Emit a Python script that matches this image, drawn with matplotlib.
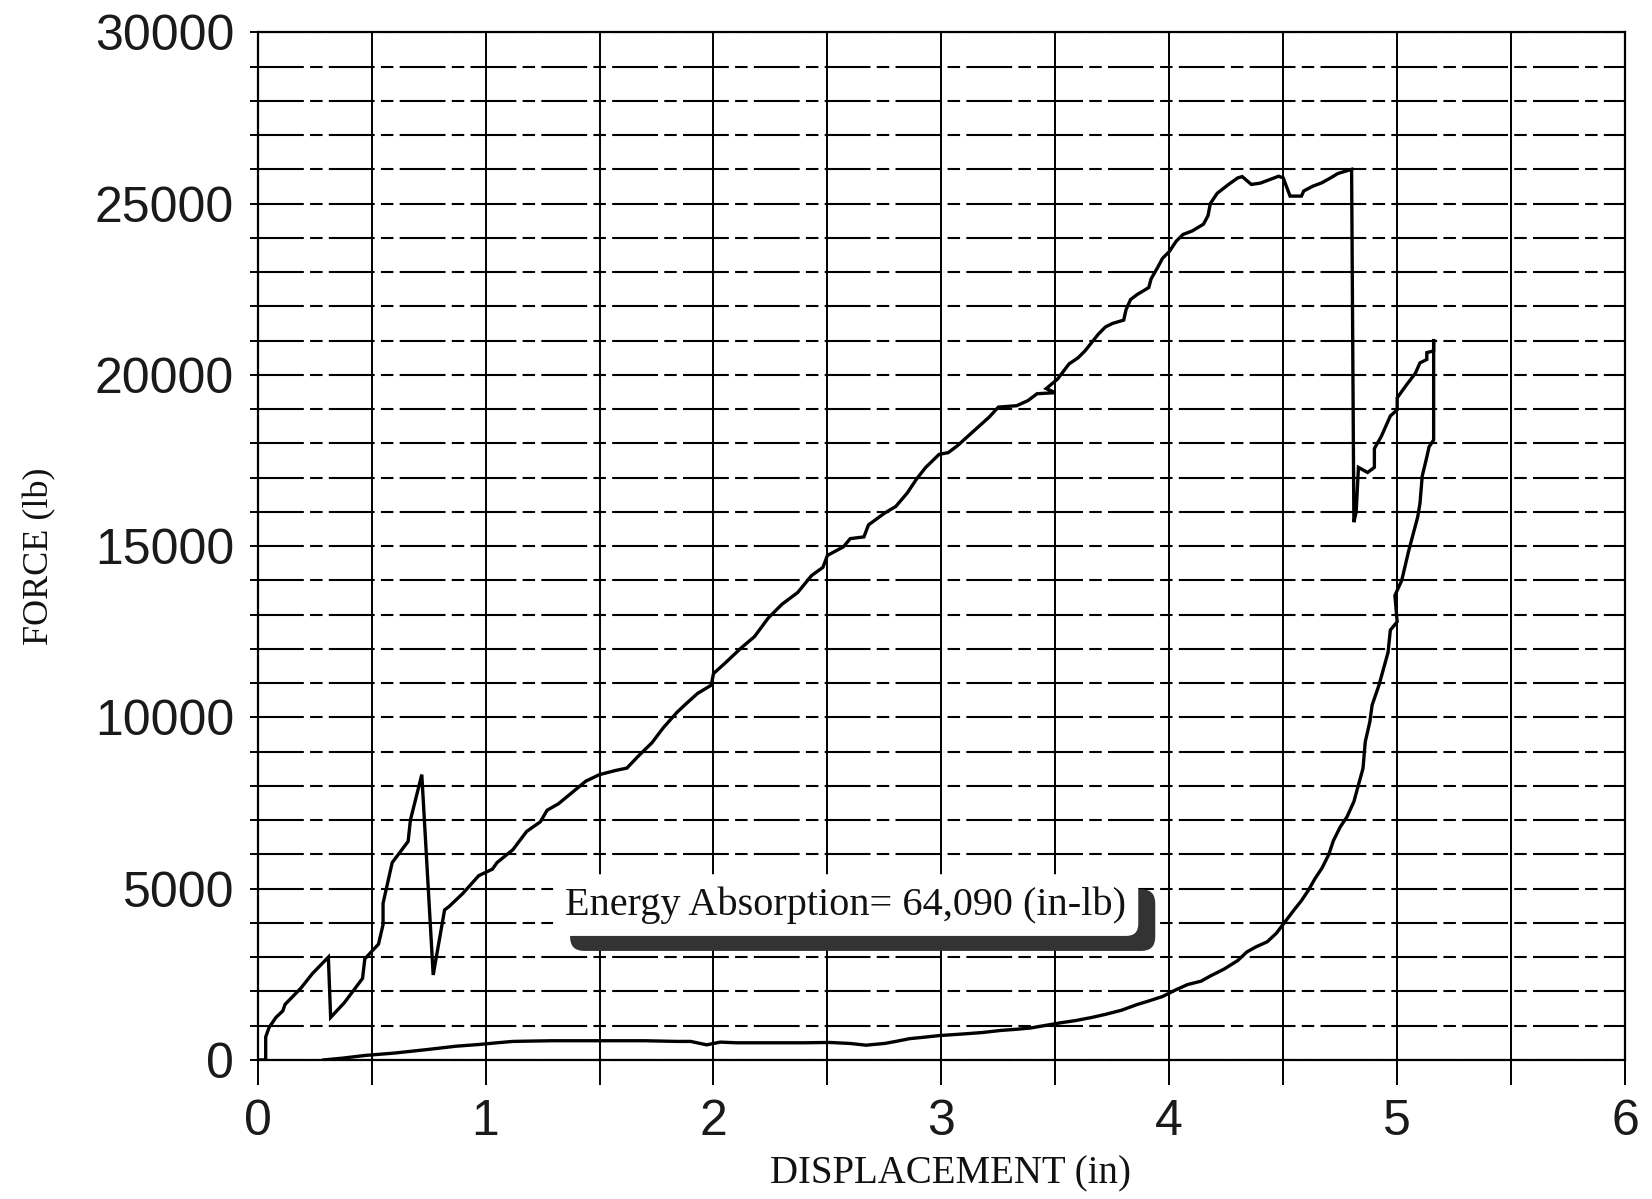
import matplotlib
matplotlib.use("Agg")
import matplotlib.pyplot as plt
from matplotlib.ticker import MultipleLocator
from matplotlib.patches import FancyBboxPatch
from matplotlib.transforms import IdentityTransform

# ---------------- data ----------------
load_x = [0.01, 0.035, 0.035, 0.05, 0.08, 0.11, 0.12, 0.19, 0.24, 0.31, 0.32, 0.38, 0.46, 0.47,
          0.53, 0.55, 0.55, 0.59, 0.66, 0.67, 0.72, 0.77, 0.82, 0.84, 0.90, 0.97, 1.03, 1.05,
          1.12, 1.18, 1.24, 1.27, 1.32, 1.44, 1.50, 1.57, 1.62, 1.67, 1.73, 1.78, 1.84, 1.88,
          1.93, 1.99, 2.00, 2.05, 2.12, 2.18, 2.24, 2.30, 2.37, 2.43, 2.48, 2.50, 2.57, 2.60,
          2.66, 2.68, 2.75, 2.80, 2.85, 2.89, 2.93, 2.99, 3.03, 3.07, 3.12, 3.16, 3.21, 3.25,
          3.33, 3.38, 3.42, 3.50, 3.46, 3.51, 3.56, 3.60, 3.63, 3.66, 3.69, 3.72, 3.75, 3.80,
          3.81, 3.83, 3.86, 3.91, 3.92, 3.95, 3.97, 4.00, 4.03, 4.06, 4.10, 4.15, 4.17, 4.18,
          4.21, 4.26, 4.30, 4.32, 4.36, 4.40, 4.44, 4.48, 4.50, 4.53, 4.58, 4.59, 4.63, 4.67,
          4.71, 4.74, 4.79, 4.80, 4.81, 4.82, 4.83, 4.87, 4.90, 4.90, 4.93, 4.95, 4.97, 5.00,
          5.00, 5.04, 5.08, 5.10, 5.13, 5.13, 5.16, 5.16]
load_y = [0, 0, 670, 950, 1240, 1430, 1620, 2100, 2520, 3000, 1240, 1670, 2380, 2950,
          3380, 3950, 4570, 5760, 6380, 7000, 8330, 2480, 4380, 4480, 4860, 5380, 5570, 5760,
          6140, 6670, 6950, 7290, 7480, 8140, 8330, 8450, 8520, 8870, 9260, 9700, 10150, 10400,
          10700, 10940, 11280, 11580, 12020, 12360, 12900, 13300, 13650, 14140, 14380, 14730, 14980, 15220,
          15270, 15620, 15960, 16160, 16550, 16950, 17290, 17680, 17730, 17930, 18230, 18470, 18770, 19060,
          19100, 19250, 19450, 19480, 19600, 19880, 20320, 20500, 20700, 20950, 21200, 21400, 21500, 21600,
          21900, 22200, 22350, 22550, 22800, 23150, 23400, 23600, 23900, 24100, 24200, 24400, 24650, 25000,
          25300, 25560, 25750, 25790, 25560, 25600, 25700, 25800, 25750, 25220, 25220, 25370, 25510, 25610,
          25760, 25880, 25980, 26000, 15700, 16000, 17300, 17150, 17300, 17850, 18200, 18500, 18800, 18980,
          19330, 19700, 20050, 20350, 20450, 20650, 20700, 21000]

unload_x = [5.16, 5.16, 5.14, 5.13, 5.11, 5.10, 5.09, 5.07, 5.05, 5.02, 4.99, 5.00, 4.97, 4.96,
            4.92, 4.89, 4.88, 4.86, 4.85, 4.83, 4.81, 4.78, 4.75, 4.72, 4.70, 4.67, 4.64, 4.61,
            4.58, 4.55, 4.51, 4.47, 4.43, 4.38, 4.34, 4.30, 4.24, 4.18, 4.14, 4.08, 4.03, 3.97,
            3.90, 3.86, 3.79, 3.72, 3.66, 3.59, 3.52, 3.45, 3.39, 3.32, 3.26, 3.18, 3.10, 2.99,
            2.92, 2.86, 2.80, 2.75, 2.70, 2.67, 2.60, 2.51, 2.40, 2.27, 2.10, 2.03, 1.97, 1.90,
            1.84, 1.70, 1.54, 1.40, 1.29, 1.20, 1.12, 1.05, 0.97, 0.87, 0.74, 0.60, 0.47, 0.37, 0.29]
unload_y = [21000, 18100, 17900, 17600, 17050, 16250, 15850, 15350, 14850, 14000, 13560, 12790, 12550, 11900,
            10940, 10360, 9870, 9290, 8510, 8030, 7540, 7100, 6800, 6400, 6000, 5600, 5300, 4950,
            4650, 4400, 4050, 3700, 3450, 3300, 3150, 2900, 2650, 2450, 2300, 2200, 2050, 1850,
            1700, 1620, 1450, 1330, 1240, 1150, 1080, 1000, 930, 890, 860, 800, 760, 710,
            660, 620, 540, 480, 450, 430, 480, 510, 500, 500, 500, 520, 440, 540,
            540, 560, 560, 560, 560, 550, 540, 500, 450, 400, 300, 200, 130, 50, 0]

x_ticks = [0, 1, 2, 3, 4, 5, 6]
y_ticks = [0, 5000, 10000, 15000, 20000, 25000, 30000]
annotation = "Energy Absorption= 64,090 (in-lb)"
x_label = "DISPLACEMENT (in)"
y_label = "FORCE (lb)"

# ---------------- figure ----------------
fig = plt.figure(figsize=(16.52, 11.99), dpi=100)
ax = fig.add_axes([0.156, 0.116, 0.8277, 0.857])

ax.set_xlim(0, 6)
ax.set_ylim(0, 30000)
ax.set_xticks(x_ticks)
ax.set_yticks(y_ticks)
ax.xaxis.set_minor_locator(MultipleLocator(0.5))
ax.yaxis.set_minor_locator(MultipleLocator(1000))

ax.grid(which='both', axis='x', color='black', lw=1.4, ls='-', zorder=1)
ax.grid(which='both', axis='y', color='black', lw=1.5, ls=(0, (22, 3, 6, 3)), zorder=1)
ax.set_axisbelow(True)

for s in ax.spines.values():
    s.set_linewidth(1.6)
    s.set_color('black')

ax.tick_params(axis='x', which='both', direction='out', length=18, width=1.4, pad=10,
               labelsize=36, labelcolor='#1a1a1a')
ax.tick_params(axis='y', which='both', direction='out', length=6, width=1.4, pad=11,
               labelsize=36, labelcolor='#1a1a1a')
for lab in ax.get_xticklabels() + ax.get_yticklabels():
    lab.set_fontfamily('Liberation Sans')

ax.plot(load_x, load_y, color='black', lw=2.4, zorder=5, solid_joinstyle='miter')
ax.plot(unload_x, unload_y, color='black', lw=2.4, zorder=5)

ax.set_xlabel(x_label, fontfamily='Liberation Serif', fontsize=28, color='#111111')
ax.set_ylabel(y_label, fontfamily='Liberation Serif', fontsize=26, color='#111111')
ax.xaxis.set_label_coords(0.507, -0.093)
ax.yaxis.set_label_coords(-0.147, 0.49)

# annotation with white box and dark drop shadow
tx, ty = 2.58, 4520
t = ax.text(tx, ty, annotation, fontfamily='Liberation Serif', fontsize=29, color='#111111',
            ha='center', va='center', zorder=7,
            bbox=dict(boxstyle='round,pad=0.3', fc='white', ec='none'))
fig.canvas.draw()
bb = t.get_bbox_patch().get_window_extent()
dx, dy = 17, -15
shadow = FancyBboxPatch((bb.x0 + dx, bb.y0 + dy), bb.width, bb.height,
                        boxstyle='round,pad=0,rounding_size=14',
                        fc='#333333', ec='none', transform=IdentityTransform(), zorder=6)
ax.add_artist(shadow)

fig.savefig('out.png', dpi=100, facecolor='white')
